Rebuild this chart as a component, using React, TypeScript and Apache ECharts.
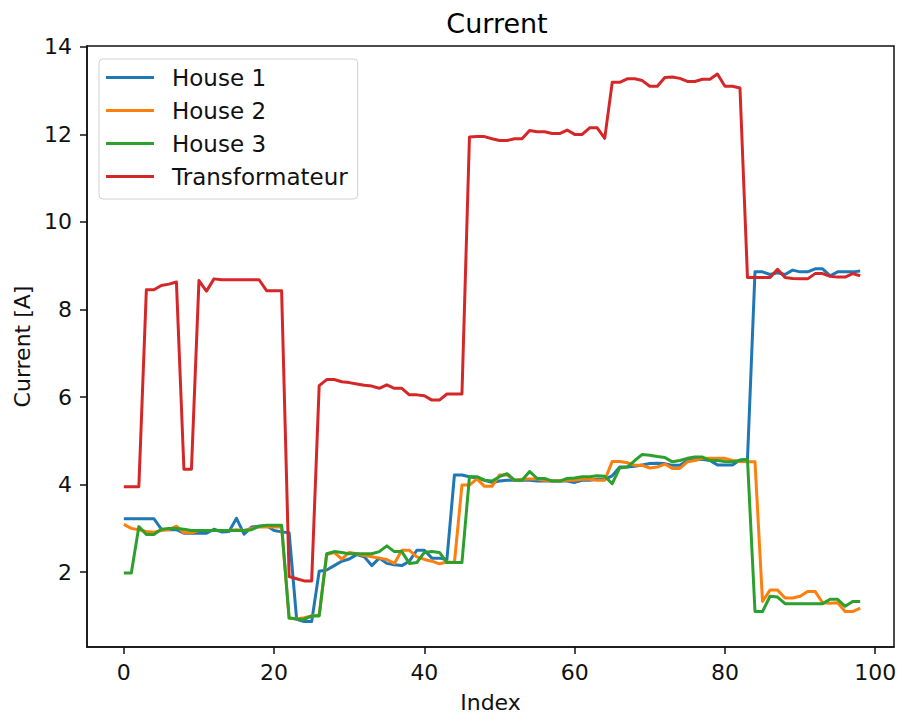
import React, { useEffect, useRef } from "react";
import * as echarts from "echarts";

const house1 = [
  3.22, 3.22, 3.22, 3.22, 3.22, 2.98, 2.97, 2.97, 2.89, 2.89,
  2.89, 2.89, 2.98, 2.92, 2.93, 3.23, 2.87, 3.03, 3.05, 3.06,
  2.95, 2.92, 2.9, 0.92, 0.87, 0.87, 2.02, 2.05, 2.15, 2.25,
  2.3, 2.4, 2.35, 2.15, 2.32, 2.2, 2.17, 2.15, 2.25, 2.5,
  2.5, 2.32, 2.32, 2.29, 4.22, 4.22, 4.18, 4.15, 4.1, 4.05,
  4.08, 4.1, 4.1, 4.1, 4.1, 4.08, 4.08, 4.08, 4.08, 4.08,
  4.05, 4.1, 4.1, 4.12, 4.12, 4.2, 4.4, 4.4, 4.42, 4.45,
  4.48, 4.49, 4.48, 4.44, 4.44, 4.55, 4.57, 4.58, 4.55, 4.45,
  4.45, 4.45, 4.56, 4.58, 8.86, 8.86, 8.8, 8.84, 8.8, 8.9,
  8.86, 8.86, 8.93, 8.93, 8.77, 8.86, 8.86, 8.86, 8.88,
];

const house2 = [
  3.09, 3.0, 2.97, 2.93, 2.91, 2.95, 2.97, 3.05, 2.9, 2.9,
  2.95, 2.95, 2.95, 2.95, 2.95, 2.97, 2.95, 3.0, 3.03, 3.03,
  3.03, 3.03, 0.95, 0.93, 0.96, 1.0, 1.02, 2.4, 2.45, 2.3,
  2.45, 2.42, 2.38, 2.35, 2.32, 2.29, 2.2, 2.5, 2.5, 2.35,
  2.29, 2.25, 2.19, 2.23, 2.22, 3.99, 3.99, 4.13, 3.96, 3.96,
  4.22, 4.22, 4.1, 4.12, 4.13, 4.13, 4.1, 4.08, 4.08, 4.1,
  4.1, 4.12, 4.12, 4.1, 4.1, 4.53, 4.53, 4.5, 4.44, 4.44,
  4.38, 4.4, 4.47, 4.37, 4.37, 4.52, 4.55, 4.6, 4.6, 4.6,
  4.6, 4.55, 4.53, 4.52, 4.52, 1.33, 1.59, 1.59, 1.41, 1.41,
  1.45, 1.56, 1.56, 1.3, 1.29, 1.3, 1.1, 1.1, 1.18,
];

const house3 = [
  1.98, 1.98, 3.04, 2.86, 2.86, 2.98, 3.0, 3.0, 2.98, 2.95,
  2.95, 2.95, 2.95, 2.95, 2.95, 2.95, 2.95, 2.97, 3.05, 3.07,
  3.07, 3.07, 0.95, 0.93, 0.92, 1.0, 1.0, 2.42, 2.47, 2.45,
  2.42, 2.42, 2.42, 2.42, 2.47, 2.6, 2.47, 2.47, 2.2, 2.22,
  2.45, 2.47, 2.45, 2.22, 2.22, 2.22, 4.18, 4.18, 4.1, 4.08,
  4.18, 4.25, 4.1, 4.1, 4.3, 4.14, 4.14, 4.08, 4.08, 4.14,
  4.15, 4.18, 4.18, 4.2, 4.19, 4.02, 4.38, 4.4, 4.55, 4.69,
  4.67, 4.64, 4.62, 4.52, 4.55, 4.6, 4.63, 4.63, 4.55, 4.55,
  4.53, 4.52, 4.55, 4.58, 1.1, 1.1, 1.45, 1.43, 1.28, 1.28,
  1.28, 1.28, 1.28, 1.28, 1.38, 1.38, 1.22, 1.33, 1.33,
];

const transformateur = [
  3.95, 3.95, 3.95, 8.45, 8.45, 8.55, 8.58, 8.63, 4.35, 4.35,
  8.66, 8.42, 8.7, 8.68, 8.68, 8.68, 8.68, 8.68, 8.68, 8.43,
  8.43, 8.43, 1.9, 1.85, 1.8, 1.8, 6.26, 6.4, 6.4, 6.35,
  6.33, 6.3, 6.27, 6.25, 6.2, 6.28, 6.2, 6.2, 6.05, 6.05,
  6.03, 5.93, 5.93, 6.07, 6.07, 6.07, 11.94, 11.95, 11.95, 11.9,
  11.86, 11.86, 11.9, 11.9, 12.09, 12.06, 12.06, 12.02, 12.02, 12.1,
  12.0, 12.0, 12.15, 12.15, 11.91, 13.19, 13.19, 13.27, 13.27, 13.23,
  13.1, 13.1, 13.3, 13.31, 13.28, 13.21, 13.21, 13.26, 13.26, 13.38,
  13.1, 13.1, 13.06, 8.73, 8.73, 8.73, 8.73, 8.92, 8.73, 8.71,
  8.7, 8.7, 8.82, 8.82, 8.76, 8.74, 8.74, 8.82, 8.77,
];

const seriesNames = ["House 1", "House 2", "House 3", "Transformateur"];
const seriesColors = ["#1f77b4", "#ff7f0e", "#2ca02c", "#d62728"];
const xTicks = [0, 20, 40, 60, 80, 100];
const yTicks = [2, 4, 6, 8, 10, 12, 14];

const FONT = "DejaVu Sans";

export default function App() {
  const ref = useRef<HTMLDivElement>(null);

  useEffect(() => {
    if (!ref.current) return;
    const chart = echarts.init(ref.current, undefined, { renderer: "svg" });
    const all = [house1, house2, house3, transformateur];
    const axisCommon = {
      type: "value" as const,
      splitLine: { show: false },
      axisLine: { show: true, onZero: false, lineStyle: { color: "#111", width: 1.5 } },
      axisTick: { show: true, inside: false, length: 7, lineStyle: { color: "#111", width: 1.5 } },
    };
    chart.setOption({
      animation: false,
      backgroundColor: "#fff",
      title: {
        text: "Current",
        left: 492,
        textAlign: "center",
        top: 5,
        textStyle: { fontFamily: FONT, fontSize: 27, fontWeight: "normal", color: "#000" },
      },
      grid: {
        left: 87,
        right: 6,
        top: 46,
        bottom: 69,
        show: true,
        borderColor: "#111",
        borderWidth: 1.5,
        backgroundColor: "#fff",
      },
      legend: {
        orient: "vertical",
        left: 99,
        top: 59,
        data: seriesNames,
        icon: "rect",
        itemWidth: 48,
        itemHeight: 3,
        itemGap: 8,
        padding: [6, 10, 10, 7],
        backgroundColor: "rgba(255,255,255,0.8)",
        borderColor: "#d0d0d0",
        borderWidth: 1,
        borderRadius: 4,
        textStyle: {
          fontFamily: FONT,
          fontSize: 23,
          color: "#111",
          lineHeight: 25,
          padding: [0, 0, 0, 13],
        },
      },
      xAxis: {
        ...axisCommon,
        min: -4.9,
        max: 102.5,
        name: "Index",
        nameLocation: "middle",
        nameGap: 44,
        nameTextStyle: { fontFamily: FONT, fontSize: 22, color: "#111" },
        axisTick: { ...axisCommon.axisTick, customValues: xTicks },
        axisLabel: {
          customValues: xTicks,
          fontFamily: FONT,
          fontSize: 22,
          color: "#111",
          margin: 14,
        },
      },
      yAxis: {
        ...axisCommon,
        min: 0.29,
        max: 14.02,
        name: "Current [A]",
        nameLocation: "middle",
        nameGap: 54,
        nameRotate: 90,
        nameTextStyle: { fontFamily: FONT, fontSize: 22, color: "#111" },
        axisTick: { ...axisCommon.axisTick, customValues: yTicks },
        axisLabel: {
          customValues: yTicks,
          fontFamily: FONT,
          fontSize: 22,
          color: "#111",
          margin: 15,
        },
      },
      series: all.map((vals, k) => ({
        name: seriesNames[k],
        type: "line",
        data: vals.map((v, i) => [i, v]),
        showSymbol: false,
        symbol: "none",
        color: seriesColors[k],
        lineStyle: { width: 3, color: seriesColors[k], join: "round" },
        z: 2 + k,
      })),
    });
    return () => chart.dispose();
  }, []);

  return (
    <div
      ref={ref}
      style={{ position: "fixed", left: 0, top: 0, width: 900, height: 718 }}
    />
  );
}
